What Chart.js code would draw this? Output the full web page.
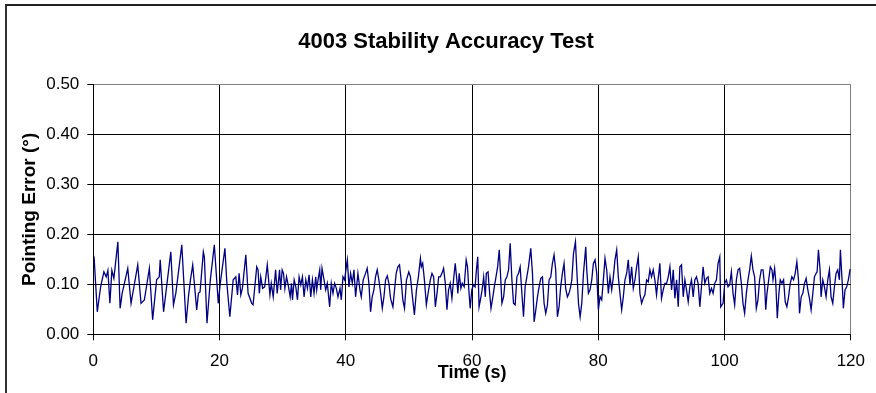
<!DOCTYPE html>
<html>
<head>
<meta charset="utf-8">
<script src="https://cdn.jsdelivr.net/npm/chart.js@4.4.1/dist/chart.umd.min.js"></script>
<style>
  html, body { margin: 0; padding: 0; background: #fff; overflow: hidden; }
  #wrap { position: relative; width: 876px; height: 393px; }
  #frame { position: absolute; left: 5px; top: 4px; width: 2000px; height: 2000px;
           border-left: 2px solid #333; border-top: 2px solid #222; box-sizing: border-box; pointer-events: none; }
  canvas { position: absolute; left: 0; top: 0; }
</style>
</head>
<body>
<div id="wrap">
  <canvas id="c" width="876" height="393"></canvas>
  <div id="frame"></div>
</div>
<script>
const chartTitle = "4003 Stability Accuracy Test";
const xAxisTitle = "Time (s)";
const yAxisTitle = "Pointing Error (°)";
const xTicks = [0, 20, 40, 60, 80, 100, 120];
const yTicks = [0.00, 0.10, 0.20, 0.30, 0.40, 0.50];

const timeS = [
  0, 0.15, 0.63, 1.16, 1.68, 2.05, 2.31, 2.63, 2.94, 3.26, 3.89, 4.25, 4.57, 5.46, 5.98, 7.04, 7.56, 8.09, 8.88, 9.4, 10.03, 10.45, 10.6, 11.13, 12.28, 12.7, 13.07, 14.02, 14.7,
  15.07, 15.39, 15.75, 16.38, 16.65, 16.91, 17.43, 17.59, 18.01, 18.54, 19.17, 19.8, 20.11, 20.85, 21.16, 21.63, 22.16, 22.58, 22.84, 23.1, 23.37, 23.62, 24.16, 24.52, 25.1, 25.31, 25.89, 26.1, 26.3, 26.52, 26.83, 27.15, 27.56, 27.98, 28.19, 28.5, 28.88, 29.13, 29.51, 29.67, 29.92,
  30.13, 30.35, 30.61, 30.87, 31.19, 31.4, 31.55, 31.82, 32.08, 32.34, 32.6, 32.87, 33.13, 33.39, 33.66, 33.92, 34.18, 34.45, 34.71, 34.97, 35.23, 35.39, 35.6, 35.87, 36.02, 36.23, 36.55, 36.81, 37.07, 37.44, 37.7, 37.97, 38.23, 38.5, 38.76, 39.08, 39.29, 39.55, 39.81, 40.08, 40.24, 40.5, 40.76, 41.03, 41.29, 41.55, 41.92, 42.24, 42.45, 42.76, 43.13, 43.39, 43.66, 43.92, 44.18, 44.45, 44.71, 44.97, 45.24,
  45.52, 45.78, 46.04, 46.3, 46.57, 46.83, 47.09, 47.46, 47.72, 47.98, 48.25, 48.51, 48.77, 49.03, 49.3, 49.61, 49.98, 50.24, 50.5, 50.87, 51.19, 51.5, 51.82, 51.97, 52.18, 52.45, 52.76, 53.03, 53.39, 53.65, 53.92, 54.18, 54.45, 54.71, 54.97, 55.23, 55.49, 55.76, 56.02, 56.28, 56.54, 56.81, 57.07, 57.33, 57.59, 57.75, 57.96, 58.23, 58.44, 58.75, 59.07, 59.28, 59.49, 59.7, 59.96, 60.22, 60.48,
  60.69, 60.9, 61.11, 61.32, 61.59, 61.84, 62.1, 62.26, 62.53, 62.74, 63.0, 63.26, 63.53, 63.79, 64.05, 64.31, 64.47, 64.73, 65.0, 65.26, 65.52, 65.78, 66.04, 66.31, 66.57, 66.83, 67.1, 67.36, 67.62, 67.89, 68.15, 68.41, 68.68, 68.94, 69.3, 69.57, 69.83, 70.1, 70.36, 70.62, 70.89, 71.15, 71.41, 71.67, 71.94, 72.2, 72.47, 72.73, 72.99, 73.25, 73.52, 73.78, 74.04, 74.31, 74.57, 74.83, 75.1, 75.36, 75.62,
  75.8, 76.07, 76.38, 76.59, 76.86, 77.12, 77.38, 77.65, 78.01, 78.17, 78.43, 78.69, 78.96, 79.22, 79.48, 79.75, 80.01, 80.27, 80.54, 80.8, 81.06, 81.33, 81.59, 81.85, 82.12, 82.38, 82.64, 82.91, 83.17, 83.43, 83.7, 83.96, 84.22, 84.49, 84.75, 85.01, 85.28, 85.54, 85.8, 86.07, 86.33, 86.59, 86.86, 87.12, 87.38, 87.65, 87.91, 88.17, 88.43, 88.7, 88.96, 89.22, 89.49, 89.75, 90.01, 90.28, 90.54,
  90.82, 91.08, 91.34, 91.61, 91.87, 92.13, 92.4, 92.66, 92.92, 93.18, 93.45, 93.71, 93.97, 94.24, 94.5, 94.76, 95.03, 95.29, 95.55, 95.81, 96.08, 96.34, 96.6, 96.87, 97.13, 97.39, 97.66, 97.92, 98.18, 98.45, 98.71, 98.97, 99.24, 99.39, 99.76, 100.03, 100.29, 100.55, 100.81, 101.08, 101.34, 101.6, 101.87, 102.13, 102.39, 102.66, 102.92, 103.18, 103.45, 103.71, 103.97, 104.24, 104.5, 104.76, 105.03, 105.29, 105.55, 105.81,
  106.09, 106.36, 106.52, 106.72, 106.99, 107.25, 107.51, 107.67, 107.93, 108.09, 108.35, 108.61, 108.82, 109.09, 109.35, 109.61, 109.87, 110.14, 110.4, 110.66, 110.93, 111.19, 111.45, 111.71, 111.87, 112.14, 112.4, 112.66, 112.92, 113.19, 113.45, 113.71, 113.98, 114.24, 114.5, 114.66, 114.87, 115.13, 115.29, 115.56, 115.82, 116.08, 116.35, 116.61, 116.87, 117.14, 117.4, 117.66, 117.93, 118.19, 118.35, 118.61, 118.82, 119.08, 119.35, 119.61, 119.87, 120
];

const errorDeg = [
  0.14, 0.149, 0.045, 0.095, 0.125, 0.115, 0.128, 0.062, 0.128, 0.112, 0.185, 0.052, 0.082, 0.132, 0.062, 0.139, 0.062, 0.069, 0.132, 0.029, 0.109, 0.115, 0.149, 0.045, 0.165, 0.059, 0.082, 0.179, 0.022,
  0.075, 0.109, 0.139, 0.049, 0.082, 0.085, 0.165, 0.155, 0.022, 0.109, 0.179, 0.062, 0.102, 0.172, 0.102, 0.035, 0.109, 0.115, 0.079, 0.122, 0.079, 0.092, 0.159, 0.082, 0.062, 0.059, 0.135, 0.129, 0.082, 0.115, 0.092, 0.095, 0.139, 0.079, 0.102, 0.075, 0.129, 0.082, 0.129, 0.089, 0.129,
  0.122, 0.092, 0.115, 0.099, 0.075, 0.102, 0.069, 0.109, 0.095, 0.069, 0.115, 0.099, 0.115, 0.075, 0.109, 0.092, 0.119, 0.075, 0.109, 0.082, 0.115, 0.089, 0.109, 0.129, 0.089, 0.132, 0.109, 0.089, 0.102, 0.055, 0.102, 0.082, 0.102, 0.092, 0.075, 0.092, 0.069, 0.115, 0.109, 0.135, 0.149, 0.095, 0.122, 0.102, 0.129, 0.075, 0.122, 0.089, 0.075, 0.109, 0.122, 0.132, 0.102, 0.045, 0.075, 0.089, 0.115, 0.129, 0.109,
  0.082, 0.052, 0.075, 0.109, 0.117, 0.102, 0.072, 0.055, 0.089, 0.122, 0.135, 0.139, 0.109, 0.069, 0.052, 0.109, 0.125, 0.115, 0.082, 0.039, 0.089, 0.115, 0.152, 0.135, 0.142, 0.109, 0.059, 0.082, 0.109, 0.122, 0.115, 0.055, 0.082, 0.115, 0.115, 0.122, 0.132, 0.102, 0.049, 0.089, 0.102, 0.072, 0.109, 0.142, 0.109, 0.082, 0.122, 0.092, 0.102, 0.095, 0.149, 0.135, 0.089, 0.052, 0.089, 0.099, 0.095,
  0.129, 0.155, 0.055, 0.069, 0.089, 0.115, 0.075, 0.122, 0.125, 0.089, 0.052, 0.072, 0.095, 0.115, 0.135, 0.169, 0.129, 0.062, 0.075, 0.109, 0.115, 0.129, 0.182, 0.109, 0.062, 0.059, 0.115, 0.122, 0.135, 0.082, 0.035, 0.095, 0.115, 0.135, 0.172, 0.122, 0.025, 0.049, 0.075, 0.095, 0.112, 0.115, 0.062, 0.042, 0.059, 0.109, 0.115, 0.142, 0.159, 0.129, 0.035, 0.055, 0.095, 0.122, 0.142, 0.092, 0.075, 0.082, 0.095,
  0.109, 0.162, 0.185, 0.129, 0.062, 0.035, 0.062, 0.122, 0.175, 0.129, 0.082, 0.089, 0.109, 0.142, 0.149, 0.122, 0.049, 0.075, 0.069, 0.109, 0.152, 0.129, 0.082, 0.115, 0.089, 0.115, 0.149, 0.169, 0.115, 0.082, 0.049, 0.075, 0.109, 0.122, 0.149, 0.099, 0.135, 0.092, 0.109, 0.135, 0.155, 0.082, 0.062, 0.072, 0.079, 0.109, 0.105, 0.129, 0.115, 0.129, 0.109, 0.079, 0.112, 0.142, 0.072, 0.089, 0.102,
  0.102, 0.115, 0.135, 0.089, 0.129, 0.072, 0.109, 0.055, 0.135, 0.139, 0.075, 0.109, 0.089, 0.065, 0.095, 0.109, 0.075, 0.109, 0.115, 0.102, 0.055, 0.095, 0.135, 0.102, 0.112, 0.115, 0.082, 0.092, 0.082, 0.102, 0.109, 0.142, 0.155, 0.055, 0.062, 0.102, 0.109, 0.095, 0.099, 0.125, 0.082, 0.059, 0.109, 0.129, 0.132, 0.102, 0.062, 0.042, 0.082, 0.109, 0.129, 0.157, 0.129, 0.115, 0.052, 0.069, 0.109, 0.129,
  0.129, 0.095, 0.049, 0.082, 0.109, 0.135, 0.129, 0.109, 0.132, 0.109, 0.032, 0.082, 0.109, 0.102, 0.109, 0.065, 0.055, 0.075, 0.102, 0.115, 0.109, 0.122, 0.145, 0.109, 0.042, 0.075, 0.082, 0.102, 0.112, 0.089, 0.072, 0.049, 0.082, 0.115, 0.122, 0.125, 0.169, 0.129, 0.075, 0.109, 0.095, 0.075, 0.109, 0.129, 0.075, 0.062, 0.095, 0.122, 0.129, 0.109, 0.169, 0.109, 0.052, 0.089, 0.095, 0.109, 0.129, 0.128
];

const FONT = '"Liberation Sans", Arial, Helvetica, sans-serif';
const n = Math.min(timeS.length, errorDeg.length);
const points = [];
for (let i = 0; i < n; i++) points.push({ x: timeS[i], y: errorDeg[i] });

const titlePlugin = {
  id: 'mainTitle',
  afterDraw(chart) {
    const ctx = chart.ctx;
    ctx.save();
    ctx.fillStyle = '#000';
    ctx.font = 'bold 22px ' + FONT;
    ctx.textAlign = 'center';
    ctx.textBaseline = 'alphabetic';
    ctx.fillText(chartTitle, 446, 48);
    ctx.restore();
  }
};

new Chart(document.getElementById('c'), {
  type: 'line',
  data: {
    datasets: [{
      data: points,
      borderColor: '#000080',
      borderWidth: 1.3,
      pointRadius: 0,
      tension: 0,
      fill: false
    }]
  },
  options: {
    responsive: false,
    animation: false,
    devicePixelRatio: 1,
    layout: { padding: { left: 0, right: 21, top: 84.5, bottom: 0 } },
    plugins: { legend: { display: false }, tooltip: { enabled: false } },
    scales: {
      x: {
        type: 'linear',
        min: xTicks[0], max: xTicks[xTicks.length - 1],
        afterBuildTicks: (s) => { s.ticks = xTicks.map(v => ({ value: v })); },
        afterFit: (s) => { s.height = 393 - 334.3; },
        ticks: { color: '#000', font: { family: FONT, size: 17 }, padding: 11, maxRotation: 0, autoSkip: false,
                 callback: (v) => String(v) },
        grid: {
          color: (c) => (c.tick && c.tick.value === 120 ? '#808080' : '#000'),
          tickColor: '#000', tickLength: 6, lineWidth: 1, drawTicks: true
        },
        border: { display: true, color: '#000', width: 1 },
        title: { display: true, text: xAxisTitle, color: '#000',
                 font: { family: FONT, size: 18, weight: 'bold' }, padding: { top: 0, bottom: 9 } }
      },
      y: {
        type: 'linear',
        min: yTicks[0], max: yTicks[yTicks.length - 1],
        afterBuildTicks: (s) => { s.ticks = yTicks.map(v => ({ value: v })); },
        afterFit: (s) => { s.width = 93.3; },
        ticks: { color: '#000', font: { family: FONT, size: 17 }, padding: 8,
                 callback: (v) => Number(v).toFixed(2) },
        grid: {
          color: (c) => (c.tick && Math.abs(c.tick.value - 0.5) < 1e-9 ? '#808080' : '#000'),
          tickColor: '#000', tickLength: 6, lineWidth: 1, drawTicks: true
        },
        border: { display: true, color: '#000', width: 1 },
        title: { display: true, text: yAxisTitle, color: '#000',
                 font: { family: FONT, size: 19, weight: 'bold' }, padding: { top: 18, bottom: 0 } }
      }
    }
  },
  plugins: [titlePlugin]
});
</script>
</body>
</html>
